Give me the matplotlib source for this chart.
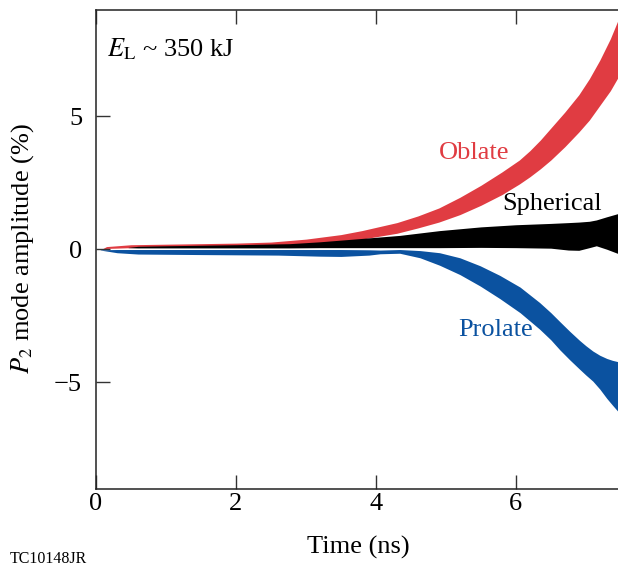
import matplotlib
matplotlib.use("Agg")
import matplotlib.pyplot as plt

plt.rcParams['font.family'] = ['Liberation Serif', 'DejaVu Serif']
plt.rcParams['mathtext.fontset'] = 'stix'

# ---- data ----
oblate_t = [0.10, 0.15, 0.5, 1.0, 1.5, 2.0, 2.5, 3.0, 3.5, 3.8, 4.3, 4.6, 4.9, 5.2, 5.5, 5.8,
            6.05, 6.2, 6.35, 6.5, 6.7, 6.9, 7.05, 7.2, 7.35, 7.46]
oblate_hi = [0.03, 0.10, 0.17, 0.19, 0.21, 0.23, 0.27, 0.38, 0.55, 0.70, 1.00, 1.25, 1.55, 1.95, 2.40, 2.90,
             3.35, 3.70, 4.10, 4.55, 5.15, 5.80, 6.40, 7.10, 7.90, 8.60]
oblate_lo = [0.01, 0.03, 0.06, 0.08, 0.09, 0.10, 0.12, 0.15, 0.25, 0.38, 0.60, 0.80, 1.02, 1.30, 1.65, 2.05,
             2.45, 2.72, 3.02, 3.35, 3.85, 4.40, 4.85, 5.40, 5.95, 6.45]

spher_t = [0.46, 0.6, 1.0, 2.0, 2.77, 3.2, 3.77, 4.34, 4.91, 5.5, 6.0, 6.5, 6.75, 6.9, 7.05, 7.15, 7.3, 7.46]
spher_hi = [0.07, 0.11, 0.13, 0.17, 0.21, 0.28, 0.40, 0.52, 0.70, 0.84, 0.92, 0.97, 1.00, 1.02, 1.05, 1.10, 1.22, 1.34]
spher_lo = [0.06, 0.05, 0.05, 0.05, 0.05, 0.06, 0.06, 0.06, 0.06, 0.07, 0.06, 0.04, -0.03, -0.04, 0.06, 0.13, 0.00, -0.16]

prol_t = [0.06, 0.3, 0.6, 1.5, 2.6, 3.2, 3.5, 3.9, 4.06, 4.34, 4.63, 4.91, 5.2, 5.49, 5.77, 6.06,
          6.34, 6.5, 6.63, 6.77, 6.91, 7.0, 7.1, 7.2, 7.3, 7.38, 7.46]
prol_hi = [-0.02, -0.01, -0.01, -0.01, -0.01, -0.01, -0.01, -0.02, -0.03, -0.01, -0.05, -0.13, -0.32, -0.62, -0.98, -1.42,
           -2.00, -2.38, -2.72, -3.08, -3.42, -3.62, -3.82, -3.98, -4.10, -4.17, -4.22]
prol_lo = [-0.03, -0.13, -0.18, -0.20, -0.22, -0.26, -0.27, -0.22, -0.17, -0.15, -0.32, -0.60, -0.95, -1.38, -1.85, -2.38,
           -3.00, -3.40, -3.78, -4.15, -4.50, -4.72, -4.95, -5.25, -5.60, -5.85, -6.09]

x_ticks = [0, 2, 4, 6]
y_ticks = [-5, 0, 5]

RED = '#E03C42'
BLUE = '#0B52A0'

fig = plt.figure(figsize=(6.18, 5.68), dpi=100)
ax = fig.add_axes([96/618, 1 - 489/568, (618 - 96)/618, (489 - 9.5)/568])

ax.fill_between(oblate_t, oblate_lo, oblate_hi, color=RED, lw=0)
ax.fill_between(prol_t, prol_lo, prol_hi, color=BLUE, lw=0)
ax.fill_between(spher_t, spher_lo, spher_hi, color='black', lw=0)

ax.set_xlim(0, 7.46)
ax.set_ylim(-9, 9)
ax.set_xticks(x_ticks)
ax.set_yticks(y_ticks)
ax.set_yticklabels(['\u22125', '0', '5'])

for s in ['left', 'top', 'bottom']:
    ax.spines[s].set_linewidth(1.1)
    ax.spines[s].set_color('#222222')
ax.spines['right'].set_visible(False)

ax.tick_params(axis='both', direction='in', length=10, width=1.0, color='#333333',
               labelsize=19)
ax.tick_params(axis='x', top=True, pad=3)
ax.tick_params(axis='y', right=False, pad=10)

fig.text(358/618, 1 - 547/568, 'Time (ns)', ha='center', va='center', fontsize=19)
fig.text(23/618, 1 - 249/568, r'$P_2$ mode amplitude (%)', ha='center', va='center',
         rotation=90, fontsize=19)
fig.text(10/618, 1 - 563/568, 'TC10148JR', ha='left', va='baseline', fontsize=11.5)

ax.text(0.157, 7.23, r'$E_{\mathrm{L}}$ ~ 350 kJ', ha='left', va='baseline', fontsize=19)
ax.text(4.9, 3.37, 'Oblate', color=RED, ha='left', va='baseline', fontsize=19)
ax.text(5.8, 1.46, 'Spherical', color='black', ha='left', va='baseline', fontsize=19)
ax.text(5.17, -3.25, 'Prolate', color=BLUE, ha='left', va='baseline', fontsize=19)

fig.savefig('out.png', dpi=100)
